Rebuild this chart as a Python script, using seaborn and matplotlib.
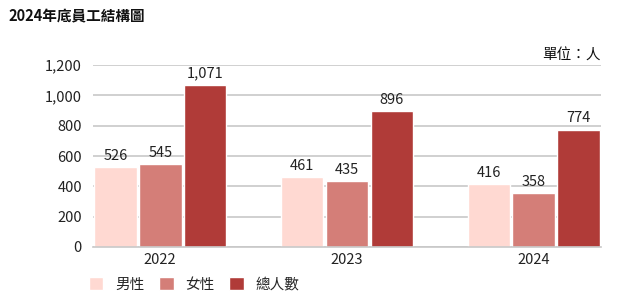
import matplotlib
matplotlib.use("Agg")
import matplotlib.pyplot as plt
import seaborn as sns
import pandas as pd

years = ["2022", "2023", "2024"]
series = ["男性", "女性", "總人數"]
male = [526, 461, 416]
female = [545, 435, 358]
total = [1071, 896, 774]
colors = ["#FFD9D2", "#D47E78", "#B03B38"]
yticks = [0, 200, 400, 600, 800, 1000, 1200]

rows = []
for i, y in enumerate(years):
    for s, vals in zip(series, [male, female, total]):
        rows.append({"year": y, "series": s, "value": vals[i]})
df = pd.DataFrame(rows)

sns.set_theme(style="white")
plt.rcParams["font.family"] = ["Noto Sans CJK TC", "DejaVu Sans"]

fig = plt.figure(figsize=(6.24, 2.95), dpi=100)
ax = fig.add_axes([93/624, 1-247/295, (601-93)/624, (247-65)/295])
sns.barplot(data=df, x="year", y="value", hue="series", palette=colors,
            width=0.72, gap=0.05, ax=ax, legend=True, saturation=1)
ax.set_xlim(-0.36, 2.36)
ax.set_ylim(0, 1200)
ax.set_yticks(yticks)
ax.set_yticklabels([f"{v:,}" for v in yticks])
ax.yaxis.grid(True, color="#c8c8c8", linewidth=1.2)
ax.set_axisbelow(True)
for s in ["left", "right", "top"]:
    ax.spines[s].set_visible(False)
ax.spines["bottom"].set_color("#c8c8c8")
ax.spines["bottom"].set_linewidth(1.2)
ax.tick_params(axis="both", length=0, labelsize=10.5, colors="#222222", pad=8)
ax.tick_params(axis="x", pad=4)
ax.set_xlabel("")
ax.set_ylabel("")
for cont in ax.containers:
    ax.bar_label(cont, labels=[f"{v:,.0f}" for v in cont.datavalues],
                 padding=3, fontsize=10.5, color="#222222")

leg = ax.legend(loc="upper left", bbox_to_anchor=(-0.034, -0.095), ncol=3,
                frameon=False, fontsize=10.5, handlelength=1.0, handleheight=1.0,
                columnspacing=1.0, handletextpad=0.8)

fig.text(8/624, 1-16/295, "2024年底員工結構圖", fontsize=10.5, fontweight="bold",
         va="center", ha="left", color="#111111")
fig.text(601/624, 1-56/295, "單位：人", fontsize=10.5, va="center", ha="right",
         color="#111111")
fig.savefig("out.png", dpi=100)
